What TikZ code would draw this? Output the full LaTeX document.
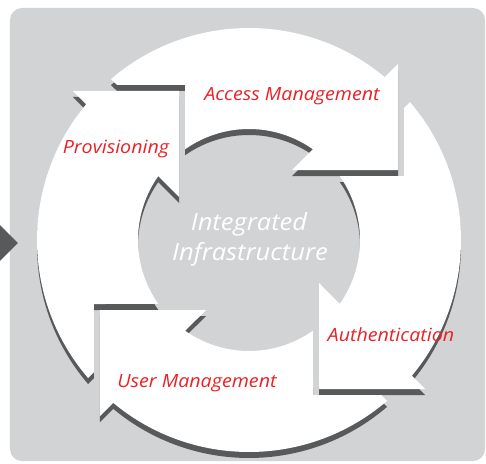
\documentclass[tikz,border=0pt]{standalone}
\usepackage{fontspec}
\setmainfont{Open Sans}
\newfontfamily\cyclefont{Open Sans}[FakeStretch=1.08]

\definecolor{panelgray}{RGB}{209,211,212}
\definecolor{shadegray}{RGB}{88,89,91}
\definecolor{labelred}{RGB}{237,32,36}

\tikzset{
  steplabel/.style={anchor=base, inner sep=0pt, text=labelred,
    font=\cyclefont\itshape\fontsize{18.2}{22}\selectfont},
  corelabel/.style={anchor=base, inner sep=0pt, text=white,
    font=\cyclefont\itshape\fontsize{23.6}{30}\selectfont}
}

% one quarter of the ring: body, square head at the top, notched tail at the bottom
\newcommand{\cyclearrow}{(220.6:212) arc[start angle=220.6, end angle=140.2, radius=212]
  -- (-176,149) -- (-70,149) -- (-70,43)
  -- (144.9:111) arc[start angle=144.9, end angle=215.2, radius=111]
  -- (-155,-64) -- (-155,-132) -- cycle}

\begin{document}
\begin{tikzpicture}[x=1pt,y=1pt]
  \useasboundingbox (-249,-223) rectangle (237,240);
  \fill[panelgray, rounded corners=12pt] (-239,232) rectangle (236,-221);
  \fill[shadegray] (-249,15) -- (-231,-3) -- (-249,-21) -- cycle;

  % shadows first, then the white arrows on top
  \foreach \k in {0,...,3}
    \fill[shadegray, shift={(0,-6)}, rotate=-90*\k] \cyclearrow;
  \foreach \k in {0,...,3}
    \fill[white, rotate=-90*\k] \cyclearrow;

  \node[steplabel] (prov) at (-133,86) {Provisioning};
  \node[steplabel] (access) at (43,139) {Access Management};
  \node[steplabel] (auth) at (142,-101) {Authentication};
  \node[steplabel] (user) at (-52,-147) {User Management};

  \node[corelabel] (integ) at (0,10) {Integrated};
  \node[corelabel] (infra) at (1,-20) {Infrastructure};
\end{tikzpicture}
\end{document}
